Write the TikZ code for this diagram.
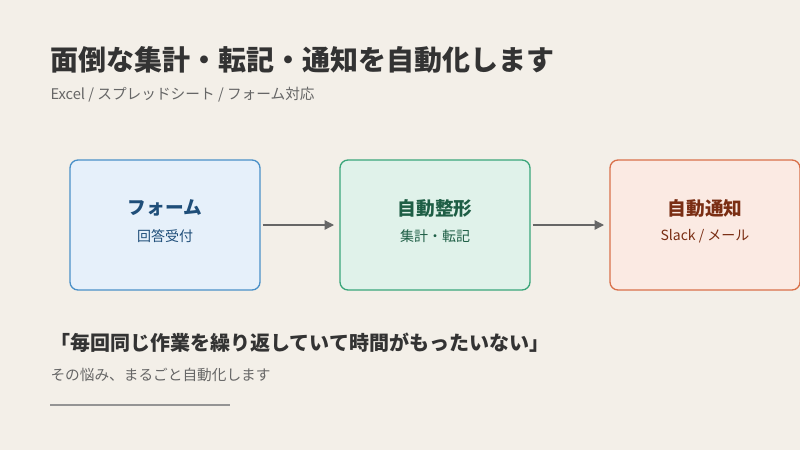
\documentclass[tikz,border=0pt]{standalone}
\usepackage{fontspec}
\setmainfont{Noto Sans CJK JP}
\usetikzlibrary{arrows.meta,positioning}
\definecolor{bg}{HTML}{F3EFE8}
\definecolor{ink}{HTML}{333333}
\definecolor{subink}{HTML}{666666}
\definecolor{bluefill}{HTML}{E6F0FA}
\definecolor{blueline}{HTML}{4A90C8}
\definecolor{bluetext}{HTML}{1F4E79}
\definecolor{greenfill}{HTML}{E0F2EA}
\definecolor{greenline}{HTML}{3AA67A}
\definecolor{greentext}{HTML}{1E5E45}
\definecolor{orangefill}{HTML}{FBEAE3}
\definecolor{orangeline}{HTML}{D9704A}
\definecolor{orangetext}{HTML}{7A2E14}
\tikzset{every picture/.style={line width=0.75pt},
  stepbox/.style={draw, rounded corners=6pt, line width=1pt, minimum width=142.5pt, minimum height=97.5pt},
  steptitle/.style={font=\bfseries\fontsize{14}{16}\selectfont},
  stepsub/.style={font=\fontsize{10.5}{12}\selectfont},
  flow/.style={draw=subink, line width=1pt, -{Triangle[length=7pt,width=7pt]}}}
\begin{document}
\begin{tikzpicture}[x=0.75pt,y=0.75pt,yscale=-1,xscale=1]
	\useasboundingbox [fill=bg] (0,0) rectangle (800,450);
	
	% Title
	\node (title) [anchor=west, inner sep=0pt, text=ink, font=\bfseries\fontsize{21}{24}\selectfont] at (50,60) {面倒な集計・転記・通知を自動化します};
	\node (subtitle) [anchor=west, inner sep=0pt, text=subink, font=\fontsize{11}{13}\selectfont] at (50,95) {Excel / スプレッドシート / フォーム対応};
	
	% Steps
	\node (form) [stepbox, draw=blueline, fill=bluefill] at (165,225) {};
	\node (shape) [stepbox, draw=greenline, fill=greenfill] at (435,225) {};
	\node (notify) [stepbox, draw=orangeline, fill=orangefill] at (705,225) {};
	
	\node (formt) [steptitle, text=bluetext] at (165,208) {フォーム};
	\node (forms) [stepsub, text=bluetext] at (165,236) {回答受付};
	\node (shapet) [steptitle, text=greentext] at (435,208) {自動整形};
	\node (shapes) [stepsub, text=greentext] at (435,236) {集計・転記};
	\node (notifyt) [steptitle, text=orangetext] at (705,208) {自動通知};
	\node (notifys) [stepsub, text=orangetext] at (705,236) {Slack / メール};
	
	% Arrows
	\draw [flow] (form.east) ++(2,0) -- ([xshift=-4]shape.west);
	\draw [flow] (shape.east) ++(2,0) -- ([xshift=-4]notify.west);
	
	% Quote
	\node (quote) [anchor=west, inner sep=0pt, text=ink, font=\bfseries\fontsize{15}{18}\selectfont] at (50,343) {「毎回同じ作業を繰り返していて時間がもったいない」};
	\node (worry) [anchor=west, inner sep=0pt, text=subink, font=\fontsize{11}{13}\selectfont] at (50,375) {その悩み、まるごと自動化します};
	\draw [draw=subink!70, line width=1pt] (50,405) -- (230,405);
	
\end{tikzpicture}
\end{document}
